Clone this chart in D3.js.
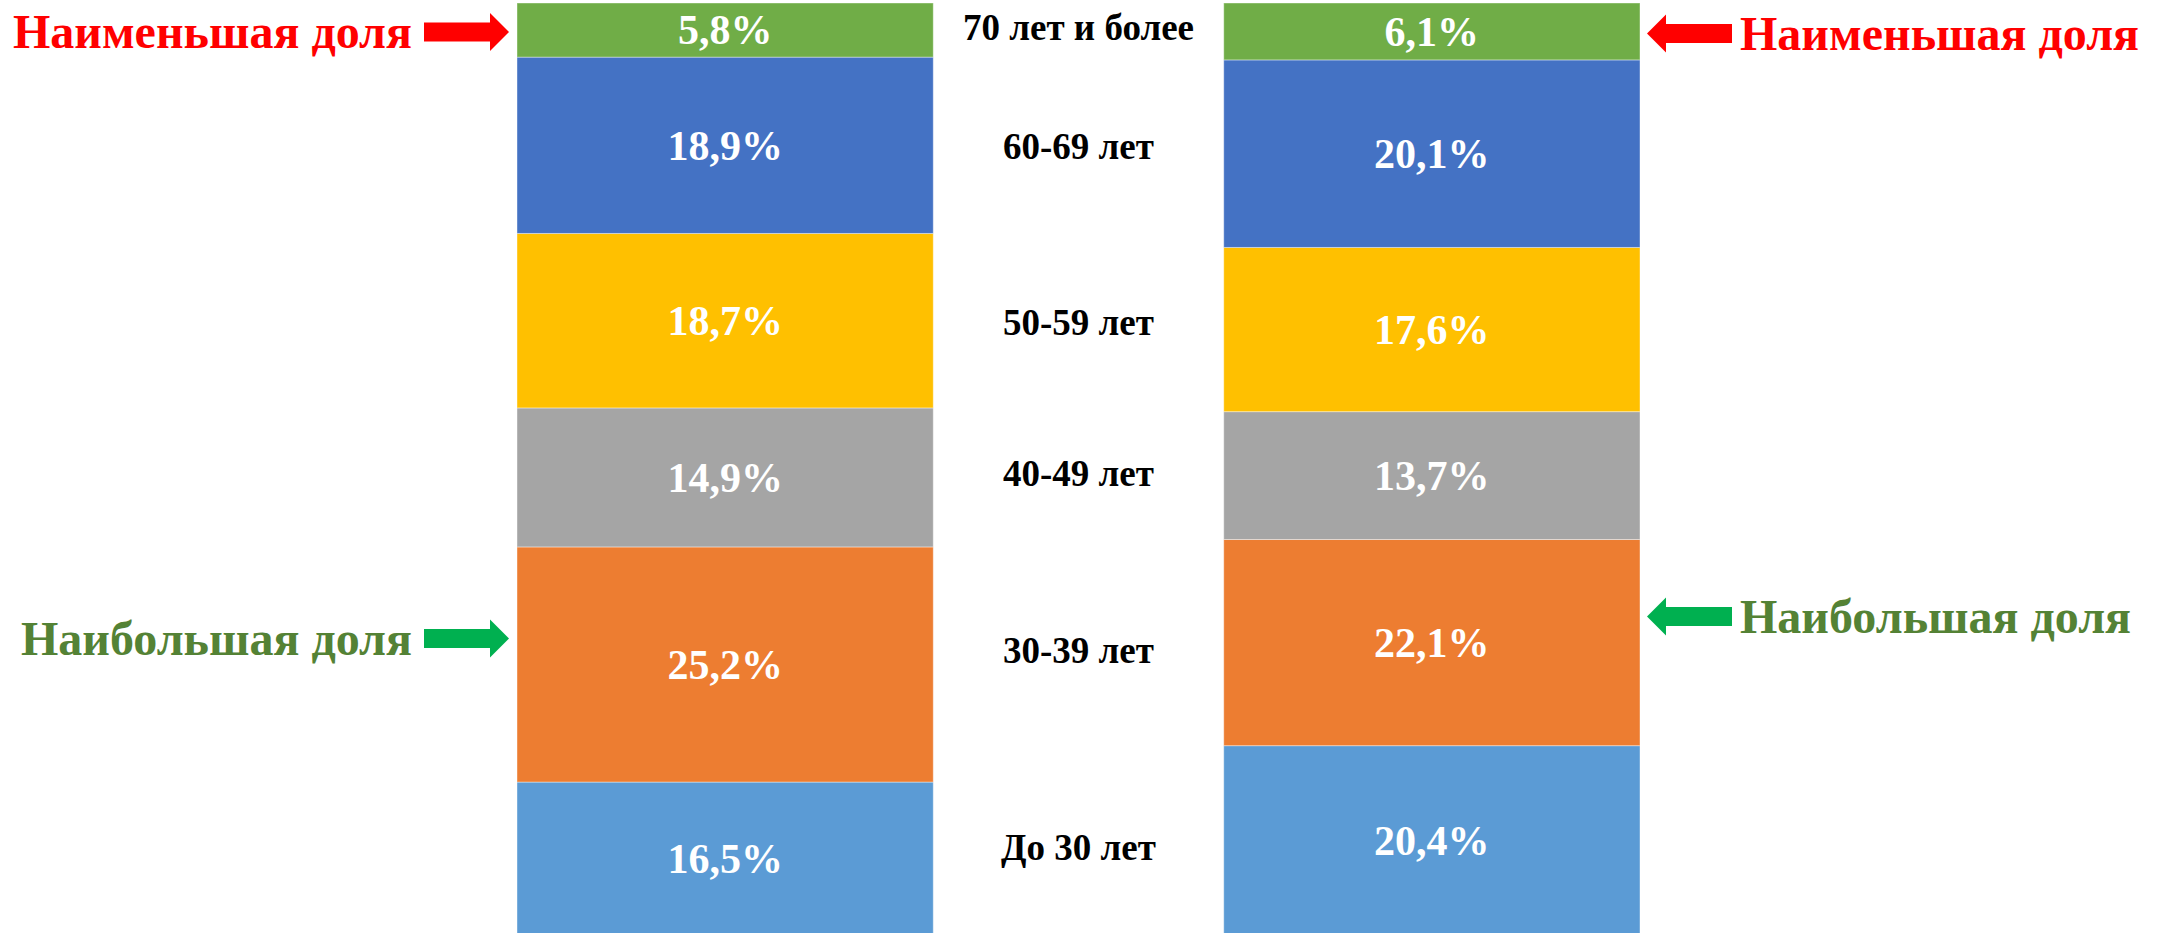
<!DOCTYPE html>
<html lang="ru">
<head>
<meta charset="UTF-8">
<title>Возрастная структура</title>
<script src="https://d3js.org/d3.v7.min.js"></script>
<style>
    body { margin: 0; background: #fff; }
    svg { display: block; }
    text { font-family: "Liberation Serif", "Times New Roman", serif; font-weight: bold; }
</style>
</head>
<body>
<script>
    // age groups, bottom to top
    const ageGroups = ["До 30 лет", "30-39 лет", "40-49 лет", "50-59 лет", "60-69 лет", "70 лет и более"];
    const columns = ["col1", "col2"];
    const col1Values = [16.5, 25.2, 14.9, 18.7, 18.9, 5.8];
    const col2Values = [20.4, 22.1, 13.7, 17.6, 20.1, 6.1];
    const groupColors = ["#5B9BD5", "#ED7D31", "#A5A5A5", "#FFC000", "#4472C4", "#70AD47"];

    const notes = [
        { col: "col1", side: "left", text: "Наименьшая доля", kind: "min" },
        { col: "col2", side: "right", text: "Наименьшая доля", kind: "min" },
        { col: "col1", side: "left", text: "Наибольшая доля", kind: "max" },
        { col: "col2", side: "right", text: "Наибольшая доля", kind: "max" }
    ];

    const width = 2165, height = 933;

    const svg = d3.select("body").append("svg")
        .attr("width", width)
        .attr("height", height);

    const rows = columns.map((c, i) => {
        const vals = i === 0 ? col1Values : col2Values;
        const r = { col: c };
        ageGroups.forEach((g, j) => r[g] = vals[j]);
        return r;
    });

    const series = d3.stack().keys(ageGroups)(rows);

    const x = d3.scaleBand().domain(columns).range([517, 1640]).paddingInner(0.411).paddingOuter(0);
    const y = d3.scaleLinear().domain([0, 100]).range([936, 3]);
    const color = d3.scaleOrdinal().domain(ageGroups).range(groupColors);

    const layers = svg.selectAll(".layer")
        .data(series)
        .enter().append("g")
        .attr("class", "layer")
        .attr("fill", d => color(d.key));

    layers.selectAll("rect")
        .data(d => d)
        .enter().append("rect")
        .attr("x", d => x(d.data.col))
        .attr("width", x.bandwidth())
        .attr("y", d => y(d[1]))
        .attr("height", d => y(d[0]) - y(d[1]))
        .attr("stroke", "#fff")
        .attr("stroke-opacity", 0.4)
        .attr("stroke-width", 1);

    // value labels
    layers.selectAll("text")
        .data(d => d.map(p => ({ p, key: d.key })))
        .enter().append("text")
        .attr("x", d => x(d.p.data.col) + x.bandwidth() / 2)
        .attr("y", d => (y(d.p[0]) + y(d.p[1])) / 2)
        .attr("dy", "0.34em")
        .attr("text-anchor", "middle")
        .attr("fill", "#fff")
        .attr("font-size", 42)
        .text(d => d3.format(".1f")(d.p[1] - d.p[0]).replace(".", ",") + "%");

    // category labels between the bars
    const midX = (x("col1") + x.bandwidth() + x("col2")) / 2;
    svg.selectAll(".cat")
        .data(series)
        .enter().append("text")
        .attr("class", "cat")
        .attr("x", midX)
        .attr("y", s => d3.mean(s, p => (y(p[0]) + y(p[1])) / 2) - 3)
        .attr("dy", "0.34em")
        .attr("text-anchor", "middle")
        .attr("font-size", 37)
        .attr("fill", "#000")
        .text(s => s.key);

    // annotations: arrow + text
    const noteStyle = {
        min: { text: "#FF0000", arrow: "#FF0000", group: "70 лет и более", shift: 2 },
        max: { text: "#548235", arrow: "#00B050", group: "30-39 лет", shift: -26 }
    };

    notes.forEach(n => {
        const st = noteStyle[n.kind];
        const s = series.find(d => d.key === st.group);
        const p = s[columns.indexOf(n.col)];
        const cy = (y(p[0]) + y(p[1])) / 2 + st.shift;
        const g = svg.append("g");
        const len = 85, head = 19, sh = 9.5, hh = 19;
        let pts, tx, anchor;
        if (n.side === "left") {
            const tip = x(n.col) - 8;
            pts = [[tip - len, cy - sh], [tip - head, cy - sh], [tip - head, cy - hh],
                   [tip, cy], [tip - head, cy + hh], [tip - head, cy + sh], [tip - len, cy + sh]];
            tx = tip - len - 12;
            anchor = "end";
        } else {
            const tip = x(n.col) + x.bandwidth() + 7;
            pts = [[tip + len, cy - sh], [tip + head, cy - sh], [tip + head, cy - hh],
                   [tip, cy], [tip + head, cy + hh], [tip + head, cy + sh], [tip + len, cy + sh]];
            tx = tip + len + 8;
            anchor = "start";
        }
        g.append("polygon")
            .attr("points", pts.map(q => q.join(",")).join(" "))
            .attr("fill", st.arrow);
        g.append("text")
            .attr("x", tx)
            .attr("y", cy)
            .attr("dy", "0.34em")
            .attr("text-anchor", anchor)
            .attr("font-size", 48)
            .attr("fill", st.text)
            .text(n.text);
    });
</script>
</body>
</html>
